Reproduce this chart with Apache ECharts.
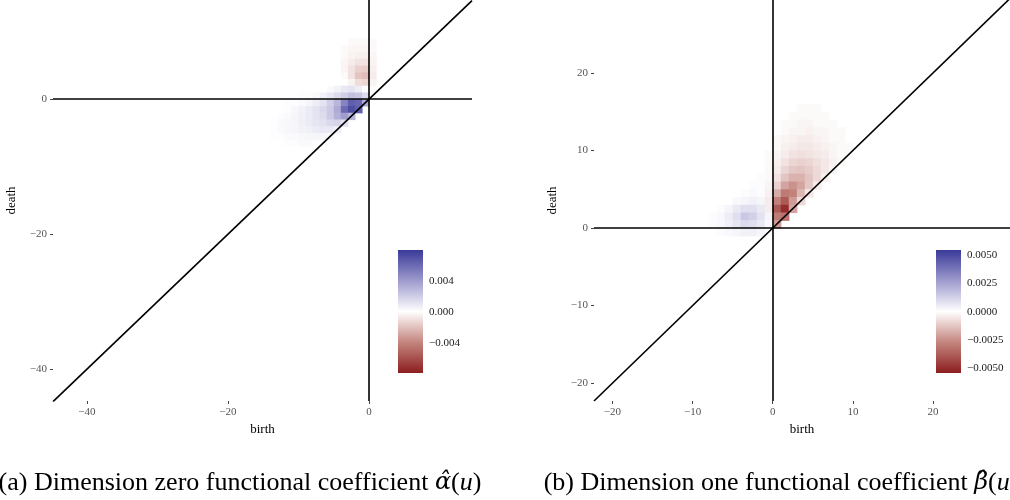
<!DOCTYPE html>
<html>
<head>
<meta charset="utf-8">
<script src="https://cdn.jsdelivr.net/npm/echarts@6/dist/echarts.min.js"></script>
<style>
html,body{margin:0;padding:0;background:#fff;}
#chart{width:1010px;height:500px;}
</style>
</head>
<body>
<div id="chart"></div>
<script>
// ---------- data (tile values in units of 1e-4) ----------
// Panel (a): dimension zero coefficient alpha-hat
const alphaRowY  = [8, 7, 6, 5, 4, 3, 2, 1, 0, -1, -2, -3, -4, -5, -6, -7, -8];
const alphaRowX0 = [-3, -4, -4, -4, -4, -4, -5, -6, -12, -14, -13, -14, -14, -15, -15, -14, -12];
const alphaRowVals = [
  [-1, -1, -1, -1],
  [-1, -2, -2, -2, -1],
  [-1, -3, -4, -4, -2],
  [-2, -5, -8, -8, -3],
  [-2, -8, -14, -15, -4],
  [-1, -8, -18, -20, -5],
  [1, 1, -3, -10, -12, -3],
  [3, 6, 10, 12, 8, 2, 0],
  [1, 1, 2, 2, 3, 6, 10, 15, 20, 26, 24, 15],
  [1, 1, 2, 2, 3, 5, 8, 12, 20, 30, 50, 65, 62, 35],
  [1, 2, 4, 6, 9, 12, 16, 22, 34, 60, 72, 65],
  [1, 2, 3, 5, 7, 9, 12, 15, 22, 32, 40, 30],
  [2, 3, 4, 5, 7, 9, 11, 13, 16, 18, 12],
  [1, 2, 3, 4, 5, 6, 7, 9, 10, 10, 6],
  [1, 2, 2, 3, 3, 4, 5, 5, 5, 3],
  [1, 1, 2, 2, 3, 3, 2, 1],
  [1, 1, 1, 1, 1]
];
// Panel (b): dimension one coefficient beta-hat
const betaRowY  = [15, 14, 13, 12, 11, 10, 9, 8, 7, 6, 5, 4, 3, 2, 1, 0, -1];
const betaRowX0 = [3, 2, 1, 1, 0, 0, -1, -1, -1, -2, -3, -4, -5, -7, -8, -8, -7];
const betaRowVals = [
  [-1, -1, -1],
  [-1, -1, -1, -1, -1],
  [-1, -1, -2, -2, -1, -1, -1],
  [-1, -2, -2, -3, -2, -2, -1, -1],
  [-1, -2, -3, -4, -4, -3, -2, -1, -1],
  [-1, -3, -4, -5, -5, -4, -3, -2, -1, -1],
  [-1, -2, -4, -6, -7, -6, -5, -4, -2, -1, -1],
  [-1, -3, -6, -9, -10, -9, -7, -5, -3, -1],
  [-1, -4, -9, -12, -13, -11, -8, -5, -2],
  [1, -1, -6, -13, -17, -17, -13, -8, -3],
  [1, 1, -2, -10, -20, -24, -20, -12, -4],
  [1, 2, 1, -3, -18, -30, -28, -16, -5],
  [2, 3, 4, 3, -4, -28, -38, -22, -8],
  [1, 3, 6, 9, 9, 6, -4, -38, -50, -20],
  [1, 2, 5, 9, 15, 13, 8, 3, -30, -32],
  [1, 2, 4, 7, 10, 9, 6, 2, -22],
  [1, 2, 3, 4, 4, 3, 1]
];
const VALUE_UNIT = 1e-4;
const CELL = 1;

// axis extents and ticks
const alphaXRange = [-44.8, 14.6], alphaYRange = [-44.7, 14.7];
const betaXRange = [-22.3, 29.6],  betaYRange = [-22.3, 29.4];
const alphaXTicks = [-40, -20, 0], alphaYTicks = [-40, -20, 0];
const betaXTicks = [-20, -10, 0, 10, 20], betaYTicks = [-20, -10, 0, 10, 20];
// colour bar limits and breaks
const alphaLimits = [-0.0078, 0.0080], alphaBreaks = [-0.004, 0, 0.004];
const betaLimits = [-0.00541, 0.00545], betaBreaks = [-0.005, -0.0025, 0, 0.0025, 0.005];
const palette = ['#8b1f1f', '#c4857f', '#ffffff', '#9e9bcd', '#3a3a9a'];

const captionA = '(a) Dimension zero functional coefficient {h|α̂}({i|u})';
const captionB = '(b) Dimension one functional coefficient {h|β̂}({i|u})';

// ---------- build ----------
function buildTiles(rowY, rowX0, rowVals) {
  const out = [];
  rowY.forEach((y, r) => {
    rowVals[r].forEach((v, k) => {
      const x = rowX0[r] + k;
      out.push([x + CELL / 2, y + CELL / 2, v * VALUE_UNIT]);
    });
  });
  return out;
}
const alphaTiles = buildTiles(alphaRowY, alphaRowX0, alphaRowVals);
const betaTiles = buildTiles(betaRowY, betaRowX0, betaRowVals);

const FONT = "'Liberation Serif', 'DejaVu Serif', serif";
const minus = s => s.replace('-', '\u2212');
const tickFmt = v => minus(String(v));

function renderTile(params, api) {
  const x = api.value(0), y = api.value(1);
  const p1 = api.coord([x - CELL / 2, y + CELL / 2]);
  const p2 = api.coord([x + CELL / 2, y - CELL / 2]);
  return {
    type: 'rect',
    shape: { x: p1[0], y: p1[1], width: p2[0] - p1[0] + 0.6, height: p2[1] - p1[1] + 0.6 },
    style: { fill: api.visual('color') }
  };
}
function renderBar(params, api) {
  const cs = params.coordSys;
  const stops = palette.slice().reverse().map((c, i) => ({ offset: i / (palette.length - 1), color: c }));
  return {
    type: 'rect',
    shape: { x: cs.x, y: cs.y, width: cs.width, height: cs.height },
    style: { fill: new echarts.graphic.LinearGradient(0, 0, 0, 1, stops) }
  };
}

function mainX(gi, range, ticks) {
  return {
    type: 'value', gridIndex: gi, min: range[0], max: range[1], position: 'bottom',
    name: 'birth', nameLocation: 'middle', nameGap: 20,
    nameTextStyle: { fontFamily: FONT, fontSize: 13, color: '#000' },
    axisLine: { show: false, onZero: false }, splitLine: { show: false },
    axisTick: { show: true, length: 3, customValues: ticks, lineStyle: { color: '#444', width: 1 } },
    axisLabel: { customValues: ticks, formatter: tickFmt, margin: 6, fontFamily: FONT, fontSize: 11, color: '#555' }
  };
}
function mainY(gi, range, ticks) {
  return {
    type: 'value', gridIndex: gi, min: range[0], max: range[1], position: 'left',
    name: 'death', nameLocation: 'middle', nameGap: 35, nameRotate: 90,
    nameTextStyle: { fontFamily: FONT, fontSize: 13, color: '#000' },
    axisLine: { show: false, onZero: false }, splitLine: { show: false },
    axisTick: { show: true, length: 3, customValues: ticks, lineStyle: { color: '#444', width: 1 } },
    axisLabel: { customValues: ticks, formatter: tickFmt, margin: 6, fontFamily: FONT, fontSize: 11, color: '#555' }
  };
}
function barY(gi, lim, breaks, pos, labels, digits) {
  return {
    type: 'value', gridIndex: gi, min: lim[0], max: lim[1], position: pos,
    axisLine: { show: false, onZero: false }, splitLine: { show: false },
    axisTick: { show: true, inside: true, length: 5, customValues: breaks, lineStyle: { color: '#ffffff', width: 1, opacity: 0.85 } },
    axisLabel: { show: labels, customValues: breaks, margin: 6, fontFamily: FONT, fontSize: 11, color: '#1a1a1a',
      formatter: v => minus(Number(v).toFixed(digits)) }
  };
}
function refLines(xi, yi, xr) {
  return {
    type: 'line', xAxisIndex: xi, yAxisIndex: yi, silent: true, symbol: 'none', clip: true,
    data: [[xr[0], xr[0]], [xr[1], xr[1]]],
    lineStyle: { color: '#000', width: 1.6 },
    markLine: {
      silent: true, symbol: ['none', 'none'], label: { show: false },
      lineStyle: { color: '#000', width: 1.6, type: 'solid' },
      data: [{ yAxis: 0 }, { xAxis: 0 }]
    },
    z: 5
  };
}

const capRich = {
  h: { fontStyle: 'italic', fontFamily: "'DejaVu Serif', serif", fontSize: 24, fill: '#000' },
  i: { fontStyle: 'italic', fontFamily: FONT, fontSize: 26, fill: '#000' }
};

const chart = echarts.init(document.getElementById('chart'), null, { renderer: 'canvas' });
chart.setOption({
  animation: false,
  backgroundColor: '#ffffff',
  grid: [
    { left: 53, top: 0, width: 419, height: 401 },
    { left: 594, top: 0, width: 421, height: 401 },
    { left: 398, top: 250, width: 25, height: 123 },
    { left: 936, top: 250, width: 25, height: 123 }
  ],
  xAxis: [
    mainX(0, alphaXRange, alphaXTicks),
    mainX(1, betaXRange, betaXTicks),
    { type: 'value', gridIndex: 2, min: 0, max: 1, show: false },
    { type: 'value', gridIndex: 3, min: 0, max: 1, show: false }
  ],
  yAxis: [
    mainY(0, alphaYRange, alphaYTicks),
    mainY(1, betaYRange, betaYTicks),
    barY(2, alphaLimits, alphaBreaks, 'right', true, 3),
    barY(2, alphaLimits, alphaBreaks, 'left', false, 3),
    barY(3, betaLimits, betaBreaks, 'right', true, 4),
    barY(3, betaLimits, betaBreaks, 'left', false, 4)
  ],
  visualMap: [
    { type: 'continuous', show: false, seriesIndex: 0, dimension: 2, min: alphaLimits[0], max: alphaLimits[1], inRange: { color: palette } },
    { type: 'continuous', show: false, seriesIndex: 1, dimension: 2, min: betaLimits[0], max: betaLimits[1], inRange: { color: palette } }
  ],
  series: [
    { type: 'custom', xAxisIndex: 0, yAxisIndex: 0, renderItem: renderTile, encode: { x: 0, y: 1 }, data: alphaTiles, silent: true, clip: true },
    { type: 'custom', xAxisIndex: 1, yAxisIndex: 1, renderItem: renderTile, encode: { x: 0, y: 1 }, data: betaTiles, silent: true, clip: true },
    refLines(0, 0, alphaXRange),
    refLines(1, 1, betaXRange),
    { type: 'custom', xAxisIndex: 2, yAxisIndex: 2, renderItem: renderBar, data: [[0.5, 0]], silent: true, z: 1 },
    { type: 'custom', xAxisIndex: 3, yAxisIndex: 4, renderItem: renderBar, data: [[0.5, 0]], silent: true, z: 1 }
  ],
  graphic: [
    { type: 'text', x: 240, y: 483, silent: true,
      style: { text: captionA, fontFamily: FONT, fontSize: 26, fill: '#000', align: 'center', verticalAlign: 'middle', rich: capRich } },
    { type: 'text', x: 781, y: 483, silent: true,
      style: { text: captionB, fontFamily: FONT, fontSize: 26, fill: '#000', align: 'center', verticalAlign: 'middle', rich: capRich } }
  ]
});
</script>
</body>
</html>
